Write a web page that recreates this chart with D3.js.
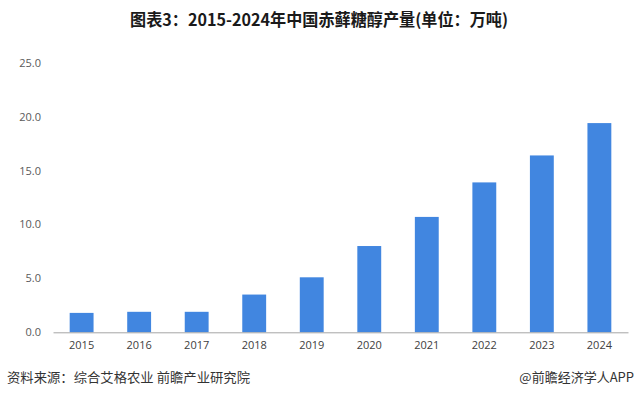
<!DOCTYPE html>
<html>
<head>
<meta charset="utf-8">
<script src="https://cdn.jsdelivr.net/npm/d3@7"></script>
<style>
  body { margin: 0; background: #fff; }
  text { font-family: "Noto Sans CJK SC", "Noto Sans", sans-serif; }
</style>
</head>
<body>
<script>
// chart data
var years = ["2015", "2016", "2017", "2018", "2019", "2020", "2021", "2022", "2023", "2024"];
var output = [1.8, 1.9, 1.9, 3.5, 5.1, 8.0, 10.7, 13.9, 16.4, 19.4];
var yTicks = [0, 5, 10, 15, 20, 25];

var titleText = "图表3：2015-2024年中国赤藓糖醇产量(单位：万吨)";
var sourceText = "资料来源：综合艾格农业 前瞻产业研究院";
var brandText = "@前瞻经济学人APP";

// svg variables
var width = 638;
var height = 397;
var leftSide = 53;
var rightSide = 628;
var topChart = 62.7;
var bottomChart = 332.3;

var svg = d3.select("body")
  .append("svg")
  .attr("width", width)
  .attr("height", height);

// scales
var xScale = d3.scaleBand()
  .domain(years)
  .range([leftSide, rightSide])
  .paddingInner(0.585)
  .paddingOuter(0.29);

var yScale = d3.scaleLinear()
  .domain([0, 25])
  .range([bottomChart, topChart]);

// title
svg.append("text")
  .attr("x", 319)
  .attr("y", 26)
  .attr("text-anchor", "middle")
  .attr("textLength", 378)
  .attr("lengthAdjust", "spacingAndGlyphs")
  .style("font-size", "16.5px")
  .style("font-weight", "bold")
  .style("fill", "#1a1a1a")
  .text(titleText);

// y axis labels, no line
var yAxis = d3.axisLeft(yScale)
  .tickValues(yTicks)
  .tickSize(0)
  .tickPadding(0)
  .tickFormat(d3.format(".1f"));

svg.append("g")
  .attr("transform", "translate(" + [41, 0] + ")")
  .call(yAxis)
  .call(function(g) { g.select(".domain").remove(); })
  .selectAll("text")
  .style("font-size", "11px")
  .style("fill", "#595959")
  .style("font-family", "'Open Sans', 'Noto Sans', sans-serif");

// bars
svg.selectAll("rect.bar")
  .data(output)
  .enter()
  .append("rect")
  .attr("class", "bar")
  .attr("fill", "#4186e0")
  .attr("x", function(d, i) { return xScale(years[i]); })
  .attr("width", xScale.bandwidth())
  .attr("y", function(d) { return yScale(d); })
  .attr("height", function(d) { return yScale(0) - yScale(d); });

// x axis
var xAxis = d3.axisBottom(xScale)
  .tickSize(0)
  .tickPadding(9);

var xg = svg.append("g")
  .attr("transform", "translate(" + [0, bottomChart] + ")")
  .call(xAxis);

xg.select(".domain")
  .attr("stroke", "#a6a6a6")
  .attr("stroke-width", 1);

xg.selectAll("text")
  .style("font-size", "11px")
  .style("fill", "#404040")
  .style("font-family", "'Open Sans', 'Noto Sans', sans-serif");

// footer
svg.append("text")
  .attr("x", 7)
  .attr("y", 382)
  .attr("textLength", 243)
  .attr("lengthAdjust", "spacingAndGlyphs")
  .style("font-size", "13px")
  .style("fill", "#333")
  .text(sourceText);

svg.append("text")
  .attr("x", 634)
  .attr("y", 382)
  .attr("text-anchor", "end")
  .style("font-size", "13px")
  .style("fill", "#333")
  .text(brandText);
</script>
</body>
</html>
